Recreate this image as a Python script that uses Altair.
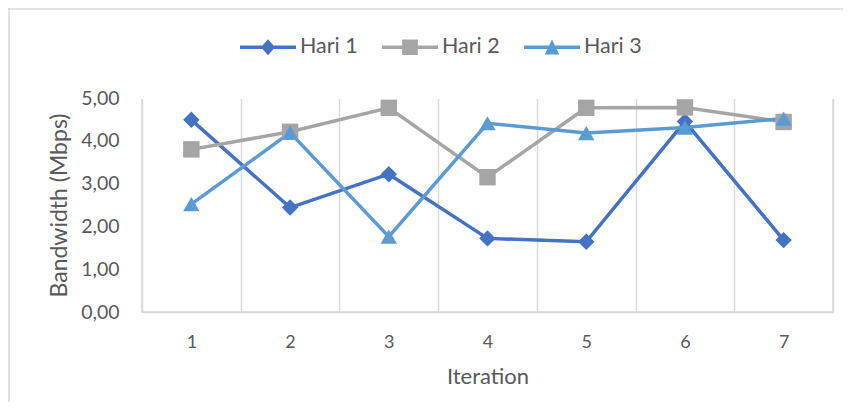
import altair as alt
import pandas as pd

iterations = [1, 2, 3, 4, 5, 6, 7]
series_names = ["Hari 1", "Hari 2", "Hari 3"]
hari1 = [4.49, 2.44, 3.22, 1.72, 1.64, 4.45, 1.68]
hari2 = [3.80, 4.21, 4.77, 3.15, 4.77, 4.78, 4.44]
hari3 = [2.52, 4.19, 1.76, 4.41, 4.18, 4.31, 4.52]
colors = ["#4472C4", "#A5A5A5", "#5B9BD5"]
plot_shapes = ["diamond", "square", "triangle-up"]
y_ticks = [0, 1, 2, 3, 4, 5]

rows = []
for name, vals in zip(series_names, [hari1, hari2, hari3]):
    for it, v in zip(iterations, vals):
        rows.append({"Iteration": str(it), "Series": name, "Bandwidth": v})
df = pd.DataFrame(rows)

# legend symbols: line segment + marker (unit box -1..1, scaled by sqrt(size)/2)
bar = "M-1,-0.0625 L1,-0.0625 L1,0.0625 L-1,0.0625 Z "
legend_shapes = [
    bar + "M0,-0.29 L0.25,0 L0,0.29 L-0.25,0 Z",
    bar + "M-0.28,-0.28 L0.28,-0.28 L0.28,0.28 L-0.28,0.28 Z",
    bar + "M0,-0.28 L0.26,0.26 L-0.26,0.26 Z",
]

FONT = "Lato"
TXT = "#595959"
GRID = "#D9D9D9"
W, H = 691, 214

x_enc = alt.X(
    "Iteration:O",
    sort=[str(i) for i in iterations],
    scale=alt.Scale(type="band", paddingInner=0, paddingOuter=0),
    bandPosition=0.5,
    axis=alt.Axis(
        title="Iteration", labelAngle=0, tickBand="extent", grid=True,
        gridColor=GRID, gridWidth=1.5, domainColor=GRID, domainWidth=1.5,
        ticks=False, labelPadding=21, titlePadding=15,
        labelFont=FONT, labelFontSize=18, labelColor=TXT,
        titleFont=FONT, titleFontSize=22, titleColor=TXT, titleFontWeight="normal",
    ),
)
y_enc = alt.Y(
    "Bandwidth:Q",
    scale=alt.Scale(domain=[0, 5]),
    axis=alt.Axis(
        values=y_ticks, labelExpr="replace(format(datum.value, '.2f'), '.', ',')",
        grid=False, domain=False, ticks=False, labelPadding=23,
        title="Bandwidth (Mbps)", titlePadding=9,
        labelFont=FONT, labelFontSize=19.5, labelColor=TXT,
        titleFont=FONT, titleFontSize=23, titleColor=TXT, titleFontWeight="normal",
    ),
)

color_scale = alt.Scale(domain=series_names, range=colors)

base = alt.Chart(df)

lines = base.mark_line(strokeWidth=3.5).encode(
    x=x_enc, y=y_enc,
    color=alt.Color("Series:N", scale=color_scale, legend=None),
)

points = base.mark_point(filled=True, size=270, opacity=1).encode(
    x=x_enc, y=y_enc,
    color=alt.Color("Series:N", scale=color_scale, legend=None),
    shape=alt.Shape("Series:N", scale=alt.Scale(domain=series_names, range=plot_shapes), legend=None),
)

leg = dict(
    title=None, orient="none", legendX=98, legendY=-79, direction="horizontal",
    symbolSize=3136, symbolOpacity=1, symbolStrokeWidth=0,
    labelFont=FONT, labelFontSize=21.5, labelColor=TXT, labelOffset=4,
    columnPadding=24, padding=0,
)
legend_layer = base.mark_point(filled=True, opacity=0).encode(
    x=x_enc, y=y_enc,
    color=alt.Color("Series:N", scale=color_scale, legend=alt.Legend(**leg)),
    shape=alt.Shape("Series:N", scale=alt.Scale(domain=series_names, range=legend_shapes),
                    legend=alt.Legend(**leg)),
)

one = alt.Data(values=[{}])
# chart-area border (left and top edges, as in the original)
border_left = alt.Chart(one).mark_rule(color=GRID, strokeWidth=1.5).encode(
    x=alt.value(-133), y=alt.value(-90), y2=alt.value(304)
)
border_top = alt.Chart(one).mark_rule(color=GRID, strokeWidth=1.5).encode(
    x=alt.value(-134), x2=alt.value(701), y=alt.value(-89)
)
# hide the top edge of the plot frame (the original has no top line)
top_cover = alt.Chart(one).mark_rule(color="white", strokeWidth=3).encode(
    x=alt.value(-1), x2=alt.value(W + 1), y=alt.value(-0.5)
)

chart = alt.layer(border_left, border_top, top_cover, lines, points, legend_layer).resolve_scale(
    color="independent", shape="independent"
).properties(
    width=W, height=H,
    background="white",
    autosize=alt.AutoSizeParams(type="none"),
    padding={"left": 134, "top": 90, "right": 10, "bottom": 90},
).configure_view(stroke=GRID, strokeWidth=1.5)

chart.save("out.html", embed_options={"renderer": "svg", "actions": False})
